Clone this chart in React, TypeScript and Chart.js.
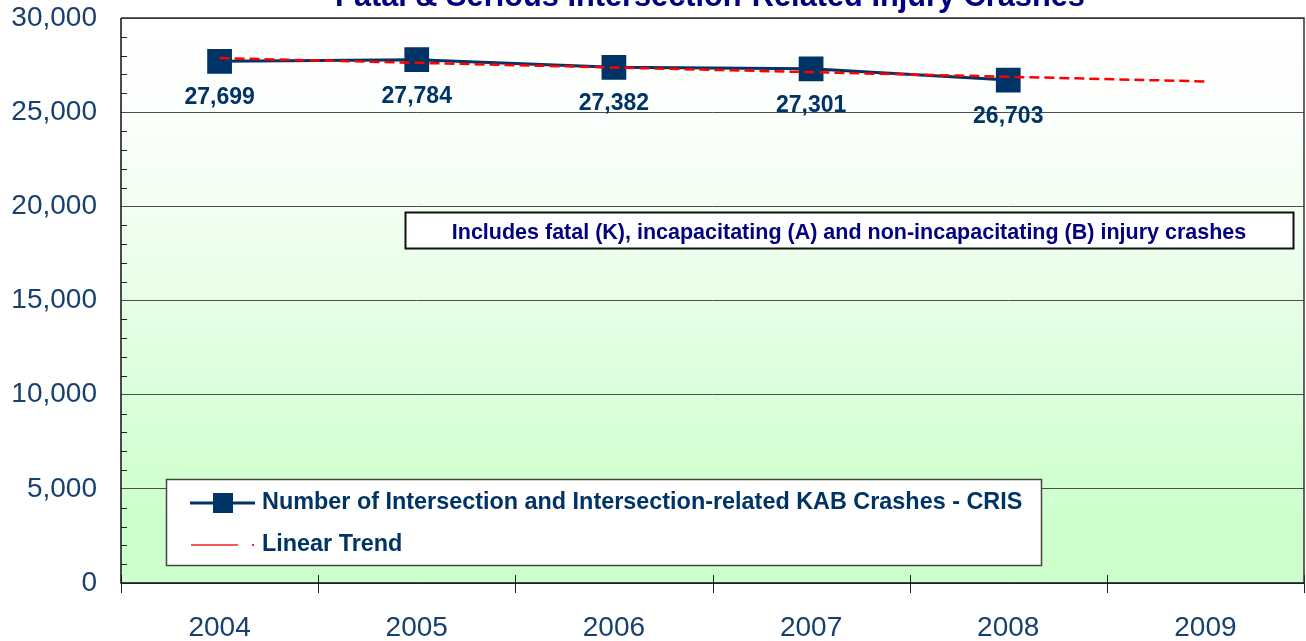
import React, { useEffect, useRef } from "react";
import { Chart, registerables } from "chart.js";

Chart.register(...registerables);

const years = ["2004", "2005", "2006", "2007", "2008", "2009"];
const crashCounts = [27699, 27784, 27382, 27301, 26703, null];
const trendValues = [27870, 27620, 27370, 27125, 26880, 26630];
const yMin = 0;
const yMax = 30000;
const yMajorStep = 5000;
const yMinorStep = 1000;
const titleText = "Fatal & Serious Intersection-Related Injury Crashes";
const noteText = "Includes fatal (K), incapacitating (A) and non-incapacitating (B) injury crashes";
const seriesLabel = "Number of Intersection and Intersection-related KAB Crashes - CRIS";
const trendLabel = "Linear Trend";

const FONT = "'Liberation Sans', Arial, sans-serif";
const NAVY = "#003366";
const TITLE_NAVY = "#000080";
const AXIS_TEXT = "#17406e";

const fmt = (v: number) => v.toLocaleString("en-US");

const decorPlugin = {
  id: "decor",
  beforeDraw(chart: any) {
    const { ctx, chartArea: a } = chart;
    ctx.save();
    ctx.fillStyle = "#ffffff";
    ctx.fillRect(0, 0, chart.width, chart.height);
    const g = ctx.createLinearGradient(0, a.top, 0, a.bottom);
    g.addColorStop(0, "#ffffff");
    g.addColorStop(0.18, "#fbfffb");
    g.addColorStop(0.9, "#ccffcc");
    g.addColorStop(1, "#ccffcc");
    ctx.fillStyle = g;
    ctx.fillRect(a.left, a.top, a.right - a.left, a.bottom - a.top);
    ctx.restore();
  },
  beforeDatasetsDraw(chart: any) {
    const { ctx, chartArea: a } = chart;
    const ys = chart.scales.y;
    const xs = chart.scales.x;
    ctx.save();
    ctx.strokeStyle = "#222222";
    ctx.lineWidth = 1;
    for (let v = yMin + yMinorStep; v < yMax; v += yMinorStep) {
      if (v % yMajorStep === 0) continue;
      const y = Math.round(ys.getPixelForValue(v)) + 0.5;
      ctx.beginPath();
      ctx.moveTo(a.left, y);
      ctx.lineTo(a.left + 6, y);
      ctx.stroke();
    }
    for (let i = 0; i <= years.length; i++) {
      const x = Math.round(xs.getPixelForValue(i - 0.5)) + 0.5;
      ctx.beginPath();
      ctx.moveTo(x, a.bottom - 8);
      ctx.lineTo(x, a.bottom + 10);
      ctx.stroke();
    }
    ctx.strokeStyle = "#333333";
    ctx.lineWidth = 1.5;
    ctx.beginPath();
    ctx.moveTo(a.left, a.top);
    ctx.lineTo(a.right, a.top);
    ctx.lineTo(a.right, a.bottom);
    ctx.stroke();
    ctx.strokeStyle = "#111111";
    ctx.beginPath();
    ctx.moveTo(a.left, a.top);
    ctx.lineTo(a.left, a.bottom);
    ctx.lineTo(a.right, a.bottom);
    ctx.stroke();
    ctx.restore();
  },
  afterDraw(chart: any) {
    const { ctx } = chart;
    const meta = chart.getDatasetMeta(1);
    ctx.save();
    ctx.font = `bold 23px ${FONT}`;
    ctx.fillStyle = NAVY;
    ctx.textAlign = "center";
    ctx.textBaseline = "middle";
    meta.data.forEach((pt: any, i: number) => {
      const v = crashCounts[i];
      if (v == null) return;
      ctx.fillText(fmt(v), pt.x, pt.y + 36.5);
    });

    ctx.fillStyle = "#ffffff";
    ctx.fillRect(405, 212, 889, 37);
    ctx.strokeStyle = "#111111";
    ctx.lineWidth = 2;
    ctx.strokeRect(405.5, 212.5, 888, 36);
    ctx.font = `bold 21.5px ${FONT}`;
    ctx.fillStyle = TITLE_NAVY;
    ctx.textAlign = "center";
    ctx.fillText(noteText, 849, 233);

    ctx.fillStyle = "#ffffff";
    ctx.fillRect(166, 479, 876, 87);
    ctx.strokeStyle = "#444444";
    ctx.lineWidth = 1.5;
    ctx.strokeRect(166.5, 479.5, 875, 86);
    ctx.strokeStyle = NAVY;
    ctx.lineWidth = 3;
    ctx.beginPath();
    ctx.moveTo(190, 503);
    ctx.lineTo(255, 503);
    ctx.stroke();
    ctx.fillStyle = NAVY;
    ctx.fillRect(213, 493, 20, 20);
    ctx.font = `bold 23.4px ${FONT}`;
    ctx.textAlign = "left";
    ctx.fillText(seriesLabel, 262, 503);
    ctx.strokeStyle = "#ee2222";
    ctx.lineWidth = 1.5;
    ctx.beginPath();
    ctx.moveTo(191, 545);
    ctx.lineTo(238, 545);
    ctx.stroke();
    ctx.fillStyle = "#ee2222";
    ctx.fillRect(252, 544, 2, 2);
    ctx.fillStyle = NAVY;
    ctx.fillText(trendLabel, 262, 545);

    ctx.font = `bold 24px ${FONT}`;
    const w = ctx.measureText(titleText).width;
    const size = (24 * 750) / w;
    ctx.font = `bold ${size.toFixed(2)}px ${FONT}`;
    ctx.fillStyle = TITLE_NAVY;
    ctx.textAlign = "center";
    ctx.textBaseline = "alphabetic";
    ctx.fillText(titleText, 710, 5.5);
    ctx.restore();
  },
};

export default function App() {
  const ref = useRef<HTMLCanvasElement | null>(null);
  useEffect(() => {
    document.body.style.margin = "0";
    const canvas = ref.current;
    if (!canvas) return;
    const chart = new Chart(canvas, {
      type: "line",
      data: {
        labels: years,
        datasets: [
          {
            label: trendLabel,
            data: trendValues,
            borderColor: "#ff0000",
            borderWidth: 2.5,
            borderDash: [10, 5],
            pointRadius: 0,
            fill: false,
            tension: 0,
          },
          {
            label: seriesLabel,
            data: crashCounts,
            borderColor: NAVY,
            borderWidth: 3,
            backgroundColor: NAVY,
            pointStyle: "rect",
            pointRadius: 17.5,
            pointBorderWidth: 0,
            pointBackgroundColor: NAVY,
            pointBorderColor: NAVY,
            fill: false,
            tension: 0,
          },
        ],
      },
      options: {
        responsive: false,
        animation: false,
        devicePixelRatio: 1,
        layout: { autoPadding: false, padding: { top: 18, right: 2, left: 0, bottom: 0 } },
        plugins: {
          legend: { display: false },
          title: { display: false },
          tooltip: { enabled: false },
        },
        scales: {
          x: {
            type: "category",
            offset: true,
            grid: { display: false, drawTicks: false },
            border: { display: false },
            ticks: {
              color: AXIS_TEXT,
              font: { family: FONT, size: 28 },
              padding: 28,
              maxRotation: 0,
            },
            afterFit(scale: any) {
              scale.height = 58;
              scale.paddingLeft = 0;
              scale.paddingRight = 0;
            },
          },
          y: {
            min: yMin,
            max: yMax,
            grid: { color: "#4d4d4d", lineWidth: 1, drawTicks: false },
            border: { display: false },
            ticks: {
              stepSize: yMajorStep,
              color: AXIS_TEXT,
              font: { family: FONT, size: 28 },
              padding: 24,
              callback: (v: any) => fmt(Number(v)),
            },
            afterFit(scale: any) {
              scale.width = 121;
              scale.paddingTop = 0;
              scale.paddingBottom = 0;
            },
          },
        },
      },
      plugins: [decorPlugin],
    } as any);
    return () => chart.destroy();
  }, []);
  return (
    <div style={{ width: 1306, height: 641 }}>
      <canvas ref={ref} width={1306} height={641} style={{ display: "block" }} />
    </div>
  );
}
